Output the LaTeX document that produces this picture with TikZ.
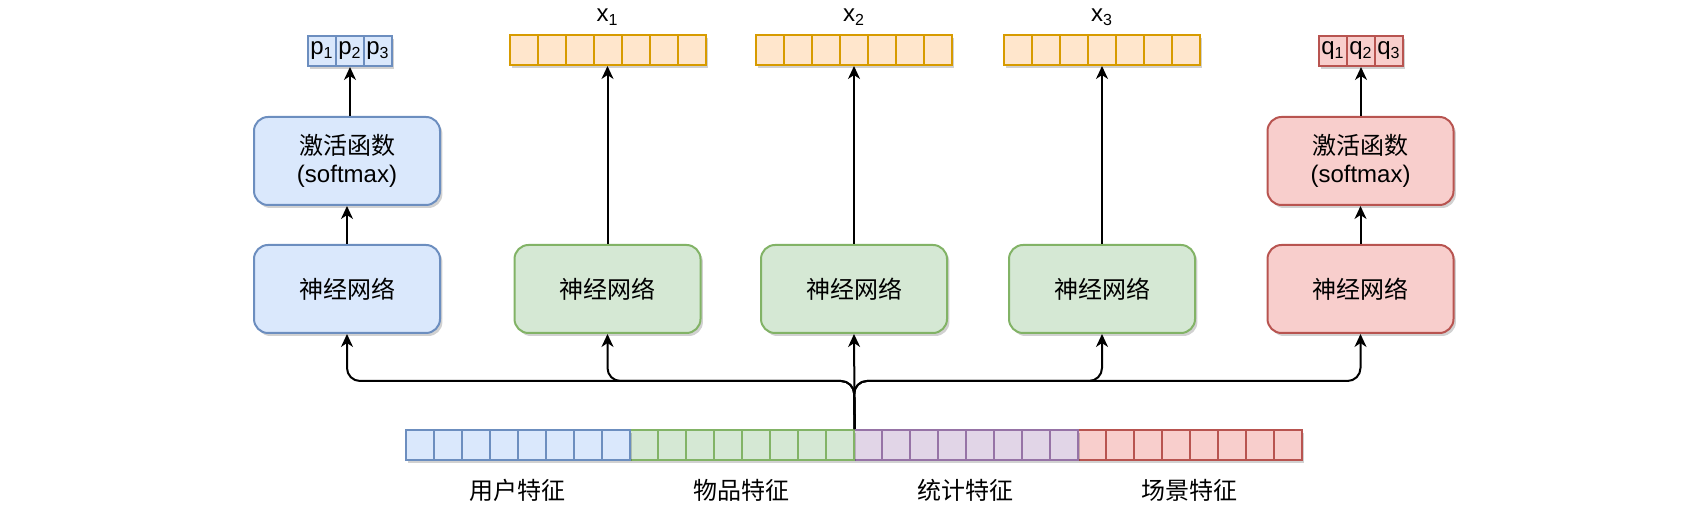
\documentclass[tikz,border=0pt]{standalone}
\usepackage{fontspec}
\setmainfont{Liberation Sans}
\newfontfamily\cjk{Noto Sans CJK SC}
\usepackage{tikz}
\usetikzlibrary{arrows.meta,shadows}

\definecolor{bluefill}{HTML}{DAE8FC}
\definecolor{bluedraw}{HTML}{6C8EBF}
\definecolor{greenfill}{HTML}{D5E8D4}
\definecolor{greendraw}{HTML}{82B366}
\definecolor{purplefill}{HTML}{E1D5E7}
\definecolor{purpledraw}{HTML}{9673A6}
\definecolor{redfill}{HTML}{F8CECC}
\definecolor{reddraw}{HTML}{B85450}
\definecolor{orangefill}{HTML}{FFE6CC}
\definecolor{orangedraw}{HTML}{D79B00}

\begin{document}
\begin{tikzpicture}
[
x=0.5pt, y=0.5pt,
>={Stealth[length=6.5pt,width=6pt,inset=2pt]},
soft_shadow/.style={drop shadow={shadow xshift=1.2pt,shadow yshift=-1.5pt,opacity=0.18,fill=black}},
box/.style={rectangle, rounded corners=7pt, line width=1pt, minimum width=93pt, minimum height=44pt, align=center, font=\fontsize{12}{14}\selectfont, soft_shadow},
cell/.style={rectangle, line width=1pt, minimum width=14pt, minimum height=15pt, inner sep=0pt, font=\fontsize{12}{14}\selectfont, soft_shadow},
blue_c/.style={draw=bluedraw, fill=bluefill},
green_c/.style={draw=greendraw, fill=greenfill},
purple_c/.style={draw=purpledraw, fill=purplefill},
red_c/.style={draw=reddraw, fill=redfill},
orange_c/.style={draw=orangedraw, fill=orangefill},
lbl/.style={font=\fontsize{12}{14}\selectfont},
arrow/.style={->, line width=1pt},
bus_line/.style={->, line width=1pt, rounded corners=6.5pt}
]
\useasboundingbox (0,0) rectangle (1702,508);

%Nodes
\node[box, blue_c]  (nn_user)   at (347,219)    {\cjk 神经网络};
\node[box, blue_c]  (act_user)  at (347,347)    {{\cjk 激活函数}\\(softmax)};
\node[box, green_c] (nn_x1)     at (607.5,219)  {\cjk 神经网络};
\node[box, green_c] (nn_x2)     at (854,219)    {\cjk 神经网络};
\node[box, green_c] (nn_x3)     at (1102,219)   {\cjk 神经网络};
\node[box, red_c]   (nn_scene)  at (1360.5,219) {\cjk 神经网络};
\node[box, red_c]   (act_scene) at (1360.5,347) {{\cjk 激活函数}\\(softmax)};

%Outputs
\foreach \k in {1,2,3}{
  \node[cell, blue_c] (p\k) at ({350+28*(\k-2)},457)  {p\textsubscript{\k}};
  \node[cell, red_c]  (q\k) at ({1361+28*(\k-2)},457) {q\textsubscript{\k}};
}
\foreach \k in {1,...,7}{
  \node[cell, orange_c] (x1_\k) at ({495.5+28*\k},458) {};
  \node[cell, orange_c] (x2_\k) at ({742+28*\k},458)   {};
  \node[cell, orange_c] (x3_\k) at ({990+28*\k},458)   {};
}
\node[lbl] (lab_x1) at (607.5,491) {x\textsubscript{1}};
\node[lbl] (lab_x2) at (854,491)   {x\textsubscript{2}};
\node[lbl] (lab_x3) at (1102,491)  {x\textsubscript{3}};

%Features
\foreach \k in {1,...,8}{
  \node[cell, blue_c]   (u\k) at ({391.7+28*\k},63)  {};
  \node[cell, green_c]  (g\k) at ({615.7+28*\k},63)  {};
  \node[cell, purple_c] (s\k) at ({839.7+28*\k},63)  {};
  \node[cell, red_c]    (c\k) at ({1063.7+28*\k},63) {};
}
\node[lbl] (lab_user)  at (517.7,18)  {\cjk 用户特征};
\node[lbl] (lab_item)  at (741.7,18)  {\cjk 物品特征};
\node[lbl] (lab_stat)  at (965.7,18)  {\cjk 统计特征};
\node[lbl] (lab_scene) at (1189.7,18) {\cjk 场景特征};

%Lines
\path[arrow]
(nn_user)  edge (act_user)
(nn_x1)    edge (x1_4)
(nn_x2)    edge (x2_4)
(nn_x3)    edge (x3_4)
(nn_scene) edge (act_scene);
\draw[arrow] (act_user.north -| p2) -- (p2.south);
\draw[arrow] (act_scene.north -| q2) -- (q2.south);

\coordinate (bus) at (854,127);
\draw[bus_line] (g8.north east) -- (bus) -| (nn_user.south);
\draw[bus_line] (g8.north east) -- (bus) -| (nn_x1.south);
\draw[bus_line] (g8.north east) -- (bus) -| (nn_x3.south);
\draw[bus_line] (g8.north east) -- (bus) -| (nn_scene.south);
\draw[arrow] (g8.north east) -- (nn_x2.south);
\end{tikzpicture}
\end{document}
